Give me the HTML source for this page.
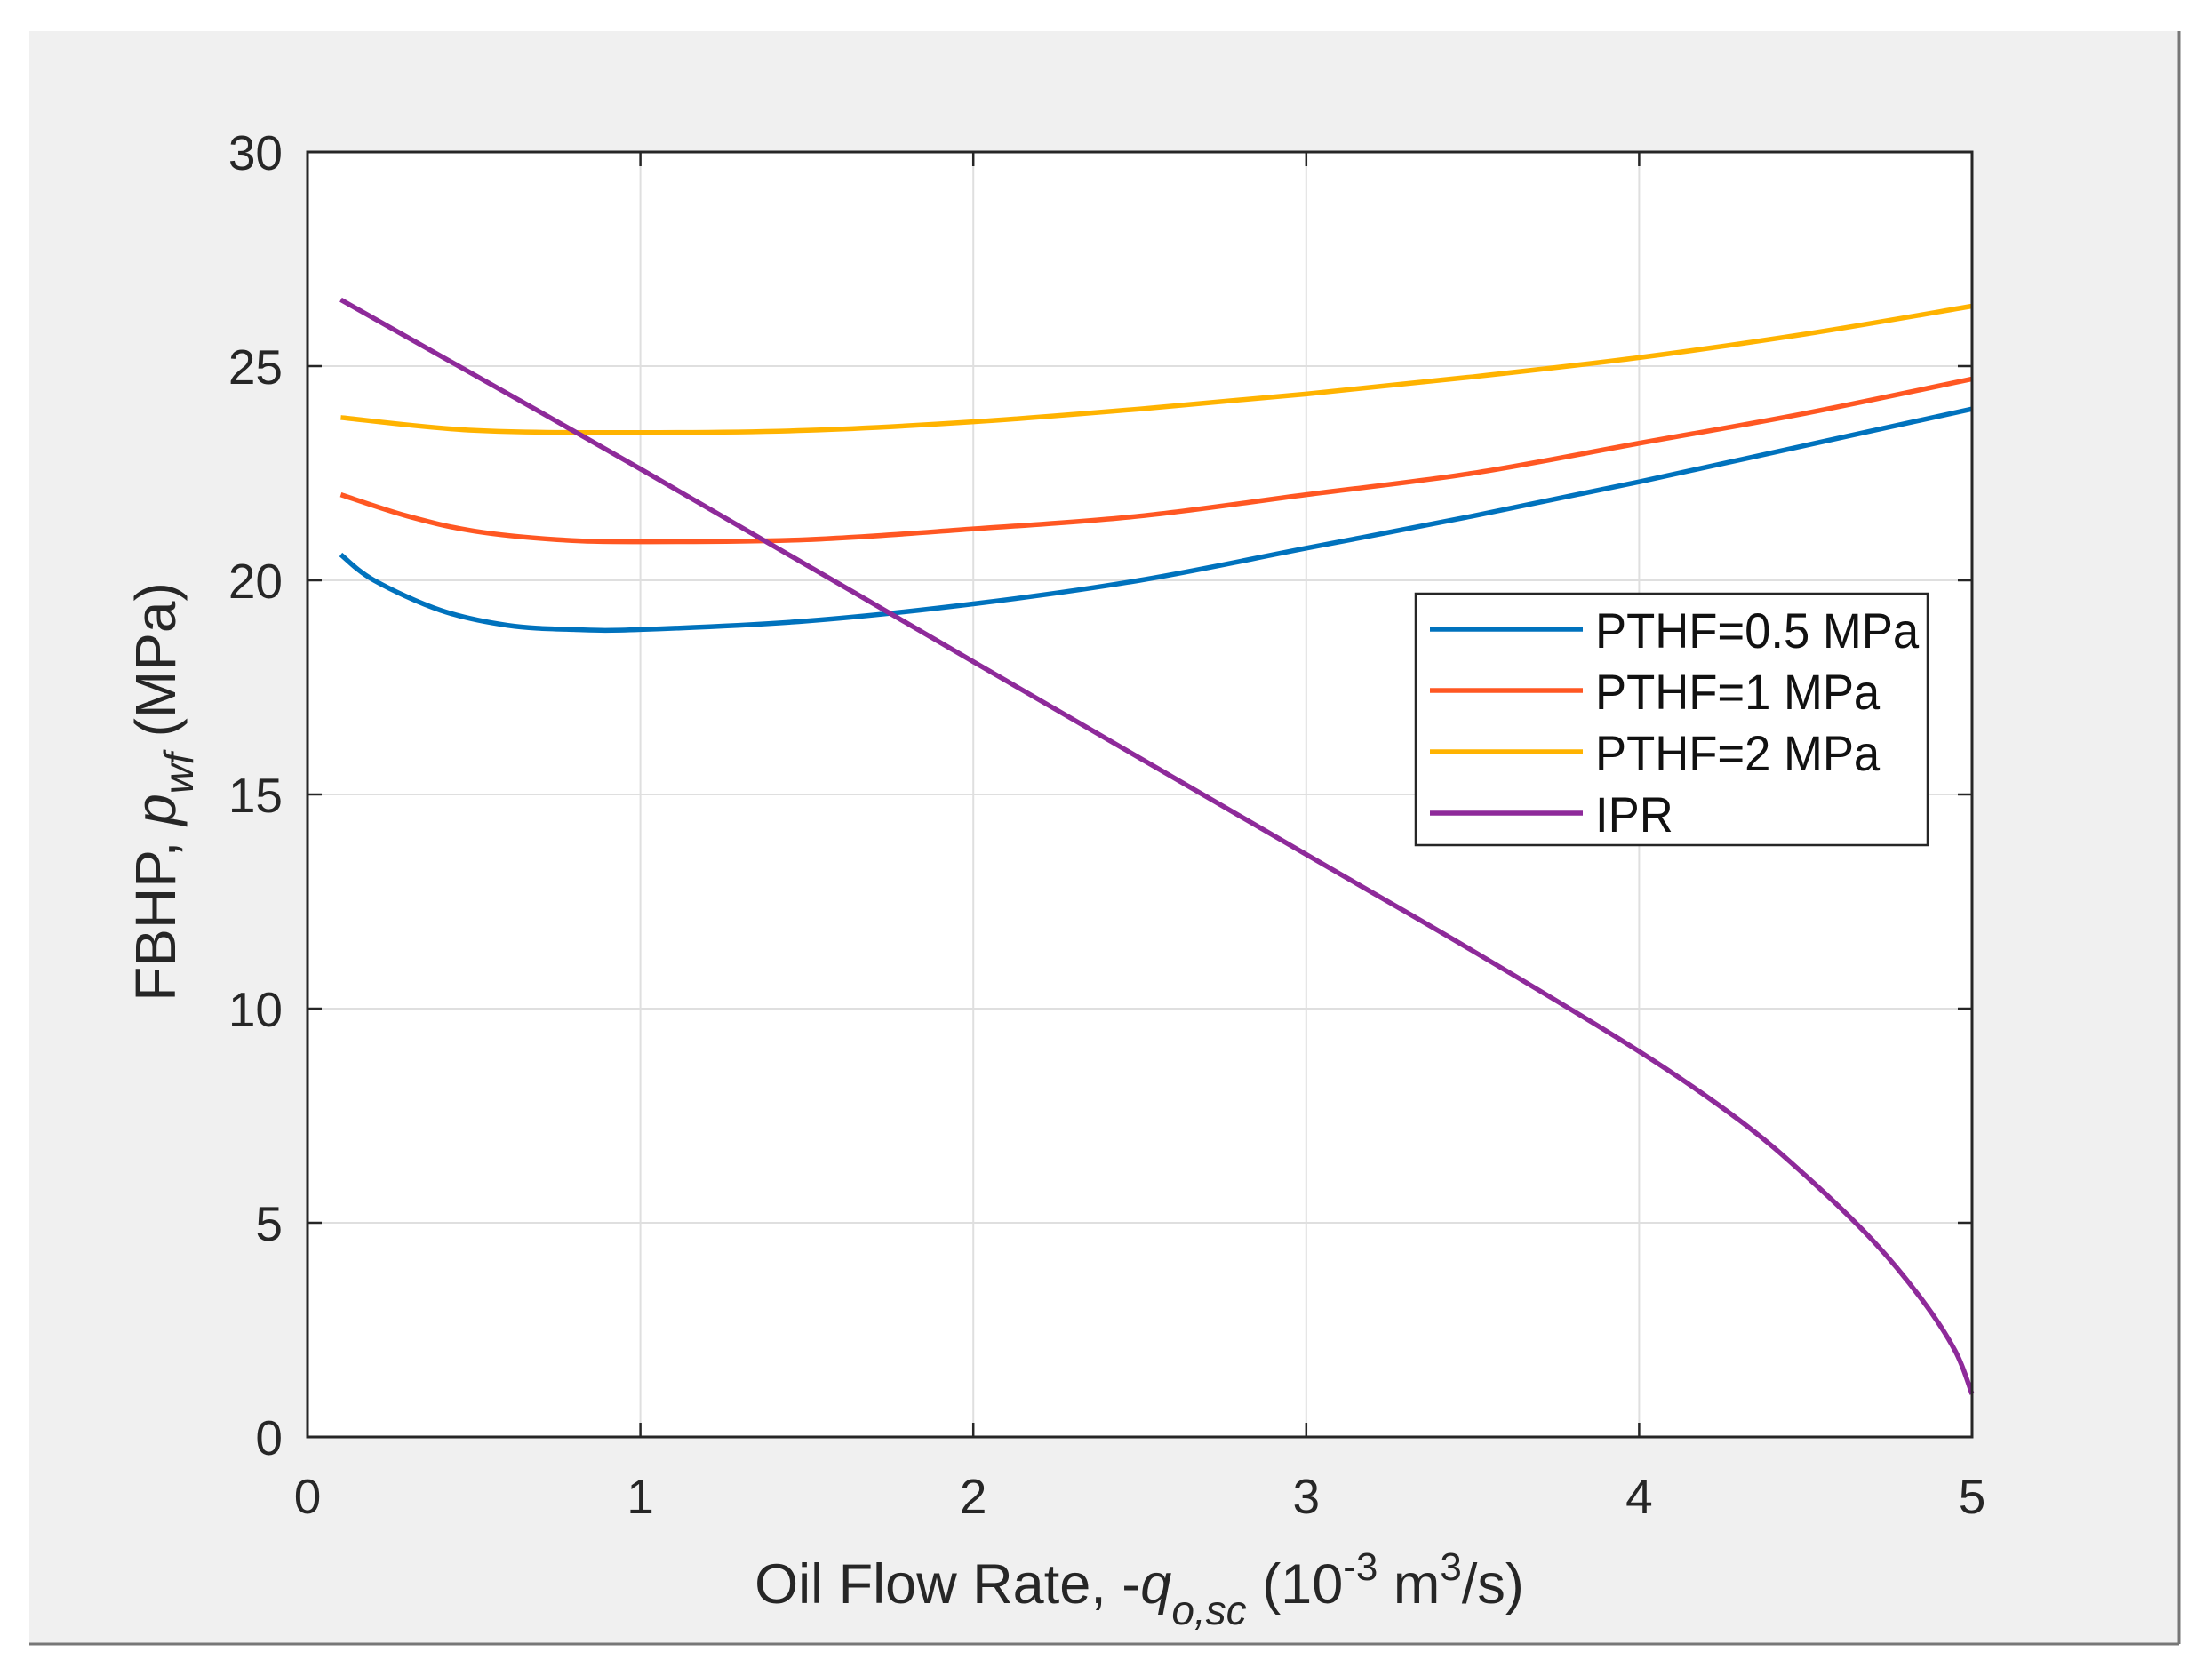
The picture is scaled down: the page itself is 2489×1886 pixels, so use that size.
<!DOCTYPE html>
<html><head><meta charset="utf-8"><style>
html,body{margin:0;padding:0;background:#fff;}
svg{display:block;font-family:"Liberation Sans",Arial,sans-serif;}
</style></head><body>
<svg id="chart" width="2489" height="1886" viewBox="0 0 2489 1886" xmlns="http://www.w3.org/2000/svg">
<rect x="33" y="35" width="2419" height="1815" fill="#f0f0f0"/>
<line x1="2452" y1="35" x2="2452" y2="1850" stroke="#777" stroke-width="3"/>
<line x1="33" y1="1850" x2="2452" y2="1850" stroke="#777" stroke-width="3"/>
<rect x="346" y="171" width="1873" height="1446" fill="#fff"/>
<g id="grid"></g>
<g id="series"></g>
<rect x="346" y="171" width="1873" height="1446" fill="none" stroke="#262626" stroke-width="3"/>
<g id="ticks"></g>
<text x="1282" y="1804" text-anchor="middle" font-size="63" fill="#262626">Oil Flow Rate, -<tspan font-style="italic">q</tspan><tspan font-style="italic" font-size="46" dy="24">o,sc</tspan><tspan dy="-24"> (10</tspan><tspan font-size="44" dy="-26">-3</tspan><tspan dy="26"> m</tspan><tspan font-size="44" dy="-26">3</tspan><tspan dy="26">/s)</tspan></text>
<text transform="translate(197,891) rotate(-90)" text-anchor="middle" font-size="64" fill="#262626">FBHP, <tspan font-style="italic">p</tspan><tspan font-style="italic" font-size="46" dy="20">wf</tspan><tspan dy="-20"> (MPa)</tspan></text>
<g>
<rect x="1593" y="668" width="576" height="283" fill="#fff" stroke="#262626" stroke-width="2.5"/>
<g id="legend-entries"></g>
</g>
</svg>
<script>
const categoriesX = [0.1,0.2,0.4,0.6,0.8,1.0,1.5,2.0,2.5,3.0,3.5,4.0,4.5,5.0];
const blueVals = [20.6,20.0,19.3,18.95,18.85,18.85,19.05,19.45,20.0,20.75,21.5,22.3,23.15,24.0];
const orangeX = [0.1,0.3,0.5,0.75,1.0,1.5,2.0,2.5,3.0,3.5,4.0,4.5,5.0];
const orangeVals = [22.0,21.5,21.15,20.95,20.9,20.95,21.2,21.5,22.0,22.5,23.2,23.9,24.7];
const yellowX = [0.1,0.5,1.0,1.5,2.0,2.5,3.0,3.5,4.0,4.5,5.0];
const yellowVals = [23.8,23.5,23.45,23.5,23.7,24.0,24.35,24.75,25.2,25.75,26.4];
const iprX = [0.1,1.0,2.0,3.0,3.5,4.0,4.3,4.5,4.7,4.85,4.95,5.0];
const iprVals = [26.55,22.6,18.1,13.6,11.35,9.0,7.4,6.1,4.6,3.2,2.0,1.0];
const xTicks = [0,1,2,3,4,5];
const yTicks = [0,5,10,15,20,25,30];
const legendLabels = ["PTHF=0.5 MPa","PTHF=1 MPa","PTHF=2 MPa","IPR"];
const colors = ["#0072BD","#FF5722","#FFB300","#8E2A9A"];

const X0=346,X1=2219,Y0=1617,Y1=171;
const sx=v=>X0+(v-0)/(5-0)*(X1-X0);
const sy=v=>Y0-(v-0)/(30-0)*(Y0-Y1);
const NS="http://www.w3.org/2000/svg";
function mk(tag,attrs,parent){const e=document.createElementNS(NS,tag);for(const k in attrs)e.setAttribute(k,attrs[k]);parent.appendChild(e);return e;}
const grid=document.getElementById('grid'),ticks=document.getElementById('ticks'),series=document.getElementById('series');
xTicks.forEach(t=>{
  const x=sx(t);
  if(t>0&&t<5){const g=mk('line',{x1:x,y1:Y1,x2:x,y2:Y0,stroke:'#dfdfdf','stroke-width':2},grid);
  
  }
  mk('line',{x1:x,y1:Y0,x2:x,y2:Y0-16,stroke:'#262626','stroke-width':2.5},ticks);
  mk('line',{x1:x,y1:Y1,x2:x,y2:Y1+16,stroke:'#262626','stroke-width':2.5},ticks);
  const tx=mk('text',{x:x,y:1703,'text-anchor':'middle','font-size':55,fill:'#262626'},ticks);
  tx.textContent=t;
  
  
});
yTicks.forEach(t=>{
  const y=sy(t);
  if(t>0&&t<30){const g=mk('line',{x1:X0,y1:y,x2:X1,y2:y,stroke:'#dfdfdf','stroke-width':2},grid);
  
  }
  mk('line',{x1:X0,y1:y,x2:X0+16,y2:y,stroke:'#262626','stroke-width':2.5},ticks);
  mk('line',{x1:X1,y1:y,x2:X1-16,y2:y,stroke:'#262626','stroke-width':2.5},ticks);
  const tx=mk('text',{x:318,y:y+20,'text-anchor':'end','font-size':55,fill:'#262626'},ticks);
  tx.textContent=t;
  
  
});
const allSeries=[[categoriesX,blueVals,'line-pthf-0-5'],[orangeX,orangeVals,'line-pthf-1'],[yellowX,yellowVals,'line-pthf-2'],[iprX,iprVals,'line-ipr']];
allSeries.forEach((s,i)=>{
  const pts=s[0].map((x,j)=>[sx(x),sy(s[1][j])]);
  let d='M'+pts[0][0]+','+pts[0][1];
  for(let j=0;j<pts.length-1;j++){
    const p0=pts[Math.max(0,j-1)],p1=pts[j],p2=pts[j+1],p3=pts[Math.min(pts.length-1,j+2)];
    const c1=[p1[0]+(p2[0]-p0[0])/6,p1[1]+(p2[1]-p0[1])/6],c2=[p2[0]-(p3[0]-p1[0])/6,p2[1]-(p3[1]-p1[1])/6];
    d+=` C${c1[0]},${c1[1]} ${c2[0]},${c2[1]} ${p2[0]},${p2[1]}`;
  }
  const p=mk('path',{d:d,fill:'none',stroke:colors[i],'stroke-width':5.5,'stroke-linejoin':'round'},series);
  
  
});
const le=document.getElementById('legend-entries');
legendLabels.forEach((l,i)=>{
  const y=708+i*69;
  const ln=mk('line',{x1:1609,y1:y,x2:1781,y2:y,stroke:colors[i],'stroke-width':5.5},le);
  
  
  const t=mk('text',{x:1795,y:y+21,'font-size':56,'textLength':l.length>3?null:null,fill:'#111'},le);
  t.removeAttribute('textLength');
  t.textContent=l;
  
  
  t.setAttribute('transform','translate(1795,0) scale(0.94,1) translate(-1795,0)');
});
</script>
</body></html>
